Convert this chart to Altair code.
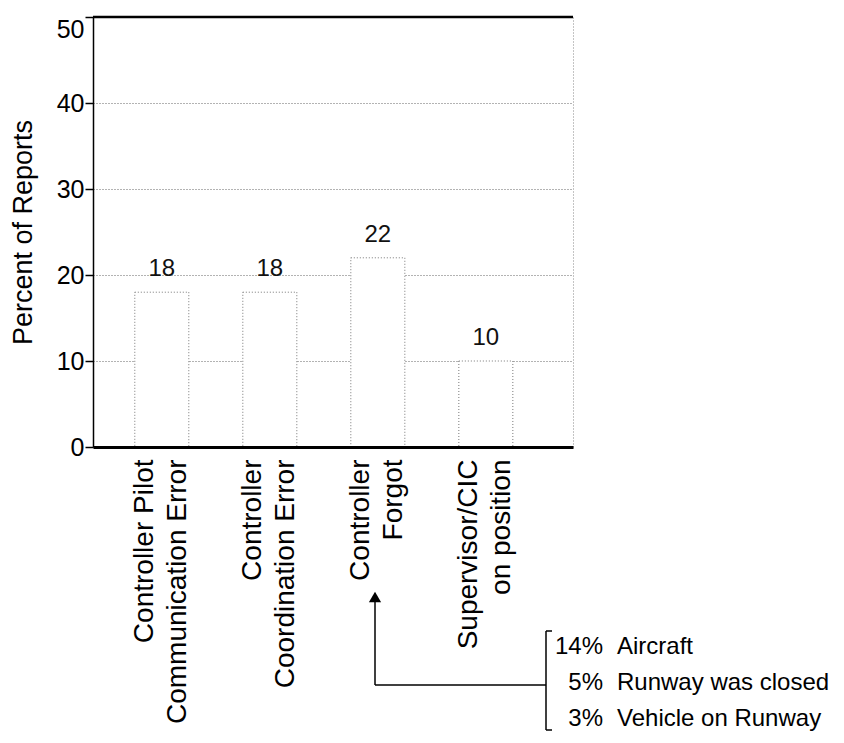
import altair as alt
import pandas as pd

# ---- data ----
categories = [
    "Controller Pilot|Communication Error",
    "Controller|Coordination Error",
    "Controller|Forgot",
    "Supervisor/CIC|on position",
]
percents = [18, 18, 22, 10]
y_ticks = [0, 10, 20, 30, 40, 50]
forgot_pcts = [14, 5, 3]
forgot_causes = ["Aircraft", "Runway was closed", "Vehicle on Runway"]

df = pd.DataFrame({"category": categories, "percent": percents})
one = pd.DataFrame({"v": [50]})

FONT = "Liberation Sans"

x = alt.X(
    "category:N",
    sort=categories,
    title=None,
    scale=alt.Scale(paddingInner=0.5, paddingOuter=0.472, align=0.41),
    axis=alt.Axis(
        labelAngle=-90,
        labelExpr="split(datum.label, '|')",
        labelFontSize=28,
        labelLineHeight=33,
        labelPadding=12,
        labelOffset=-17,
        labelLimit=400,
        ticks=False,
        tickSize=0,
        domainColor="black",
        domainWidth=3,
        labelColor="black",
        labelFont=FONT,
        grid=False,
        zindex=1,
    ),
)
y = alt.Y(
    "percent:Q",
    title="Percent of Reports",
    scale=alt.Scale(domain=[0, 50], nice=False),
    axis=alt.Axis(
        values=y_ticks,
        tickSize=8,
        tickColor="black",
        tickWidth=1.5,
        labelFontSize=25,
        labelPadding=1,
        labelBaseline={"condition": {"test": "datum.value == 50", "value": "top"}, "value": "middle"},
        labelColor="black",
        labelFont=FONT,
        titleFont=FONT,
        titleFontSize=27,
        titleFontWeight="normal",
        titleColor="black",
        titlePadding=19,
        grid=True,
        gridColor="#666",
        gridDash=[1, 2],
        domainColor="black",
        domainWidth=1.5,
    ),
)

base = alt.Chart(df)

bars = base.mark_bar(fill="white", stroke="#777", strokeDash=[1, 2], strokeWidth=1).encode(x=x, y=y)

values = base.mark_text(
    baseline="bottom", dy=-11, fontSize=24, font=FONT, color="#111"
).encode(x=x, y=y, text=alt.Text("percent:Q", format="d"))

top_rule = alt.Chart(one).mark_rule(color="black", strokeWidth=2.5).encode(y=alt.datum(50))

# ---- annotation for "Controller Forgot" ----
ann = alt.Chart(one)
arrow_shaft = ann.mark_rule(color="black", strokeWidth=1.5).encode(
    x=alt.value(282), y=alt.value(584), y2=alt.value(668)
)
arrow_head = ann.mark_point(shape="triangle-up", filled=True, color="black", opacity=1, size=150).encode(
    x=alt.value(282), y=alt.value(580)
)
arrow_horiz = ann.mark_rule(color="black", strokeWidth=1.5).encode(
    x=alt.value(282), x2=alt.value(453), y=alt.value(668)
)
bracket_v = ann.mark_rule(color="black", strokeWidth=1.5).encode(
    x=alt.value(453), y=alt.value(614), y2=alt.value(713)
)
bracket_t = ann.mark_rule(color="black", strokeWidth=1.5).encode(
    x=alt.value(453), x2=alt.value(459), y=alt.value(614)
)
bracket_b = ann.mark_rule(color="black", strokeWidth=1.5).encode(
    x=alt.value(453), x2=alt.value(459), y=alt.value(713)
)
pct_text = ann.mark_text(
    align="right", baseline="alphabetic", fontSize=24, font=FONT, lineHeight=36, color="black"
).encode(x=alt.value(510), y=alt.value(637), text=alt.value([f"{p}%" for p in forgot_pcts]))
cause_text = ann.mark_text(
    align="left", baseline="alphabetic", fontSize=24, font=FONT, lineHeight=36, color="black"
).encode(x=alt.value(524), y=alt.value(637), text=alt.value(forgot_causes))

chart = (
    alt.layer(
        bars, values, top_rule,
        arrow_shaft, arrow_head, arrow_horiz,
        bracket_v, bracket_t, bracket_b,
        pct_text, cause_text,
    )
    .properties(
        width=480,
        height=430,
        autosize=alt.AutoSizeParams(type="none"),
        padding={"left": 85, "top": 9, "right": 263, "bottom": 288},
        background="white",
    )
    .configure_view(stroke="#888", strokeDash=[1, 2], strokeWidth=1)
)

chart.save("out.html", embed_options={"renderer": "svg", "actions": False})
